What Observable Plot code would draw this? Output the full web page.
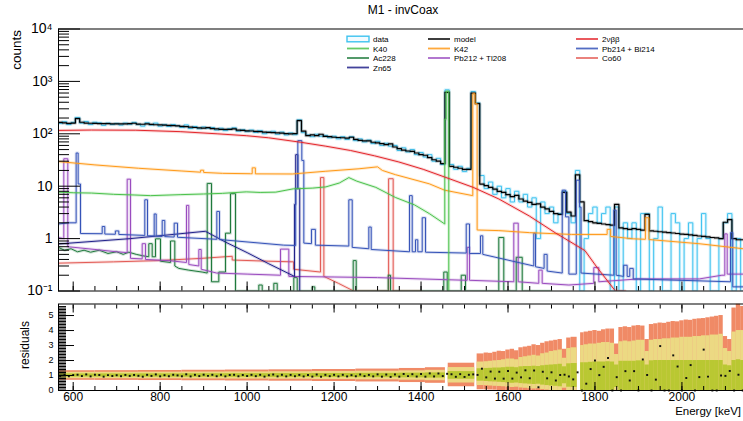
<!DOCTYPE html>
<html><head><meta charset="utf-8">
<script src="https://cdn.jsdelivr.net/npm/d3@7"></script>
<script src="https://cdn.jsdelivr.net/npm/@observablehq/plot@0.6"></script>
<style>
html,body{margin:0;padding:0;background:#fff;}
#wrap{position:relative;width:743px;height:421px;overflow:hidden;background:#fff;font-family:"Liberation Sans",Arial,Helvetica,sans-serif;}
#top,#bot,#ovl{position:absolute;left:0;}
#top{top:0;} #bot{top:300px;} #ovl{top:0;}
svg{max-width:none !important;}
</style></head>
<body><div id="wrap"><div id="top"></div><div id="bot"></div><svg id="ovl" width="743" height="421"></svg></div>
<script>
// ---------- data (energy in keV, counts per bin) ----------
const binStart = 565, binWidth = 10;
const modelCounts = [
165,162,158,160,195,166,160,159,158,157,
157,156,155,155,154,154,156,159,153,152,
155,151,149,148,147,145,143,142,139,137,
134,132,130,128,131,126,124,122,122,121,
124,118,116,114,113,111,110,108,106,105,
104,103,101,100,101,178,112,92,95,92,
98,89,88,86,85,84,83,86,78,75,
73,73,69,67,65,62,64,56,52,49,
47,46,43,40,39,35,32,30,27,620,
24,23,22,21,21,595,375,11,10.3,9.5,
8.8,8.0,7.6,6.9,6.3,6.7,5.7,5.2,4.9,4.5,
4.6,4.0,3.7,3.3,3.0,2.9,7.6,3.2,2.7,16.5,
5,2.2,2.1,2.0,1.95,1.9,1.85,1.8,4.5,1.6,
1.55,1.5,1.55,1.5,1.45,2.9,1.4,1.38,1.35,1.33,
1.3,1.28,1.25,1.22,1.2,1.18,1.15,1.12,1.1,1.08,
1.05,1.03,1.0,2.05,2.3,1.0,0.95,0.95];
const dataCounts = [
158,170,150,165,205,160,172,150,166,162,
145,160,150,158,147,160,152,165,150,140,
162,147,160,140,150,138,150,143,132,148,
126,138,125,135,128,132,118,128,115,125,
130,112,120,110,118,106,115,100,108,112,
98,108,95,104,96,185,105,95,88,98,
90,93,84,90,80,88,78,88,74,80,
70,76,65,72,60,66,58,60,48,54,
45,50,40,44,36,40,30,34,26,690,
26,21,24,19,22,640,390,16,9,12,
7,10,6,9,5,8,5,7,4,6,
1,5,3,4,2,3,8,3,2,20,
0,1,3,4,2,3,4,0,4,0,
2,1,2,0,3,3,0,1,4,0,
0,3,2,0,1,2,0,1,3,1,
0,0,1,2,3,0,1,0];

// components: [energy, counts] vertices of each histogram outline
const twoNuBB = [[566,116],[642,118],[744,117],[846,110],[931,100],[998,92],[1049,84],[1123,69],[1181,58],[1238,48],[1293,38],[1349,29],[1405,21],[1454,15],[1520,9.5],[1579,5.7],[1649,2.7],[1710,1.27],[1731,1.0],[1777,0.59],[1805,0.28],[1847,0.1],[1870,0.06]];
const k40 = [[566,7.7],[600,7.5],[642,7.4],[693,7.0],[740,6.8],[778,6.6],[846,6.9],[900,7.1],[943,7.3],[998,7.8],[1030,7.6],[1066,7.7],[1106,8.9],[1151,9.2],[1181,9.7],[1212,11.5],[1234,14.6],[1252,12.5],[1296,9.5],[1341,6.1],[1385,4.4],[1419,3.0],[1454.6,1.9],[1454.6,190],[1457.8,190],[1457.8,650],[1463.8,650],[1463.8,0.01]];
const k42 = [[566,29.5],[650,25.5],[750,22],[850,19.5],[893,18.5],[893,20.2],[900,20.2],[900,18.3],[943,17.6],[1008,17.3],[1011.7,17.3],[1011.7,22.4],[1019,22.4],[1019,17.2],[1104,17.1],[1181,19.3],[1257.5,21.5],[1300,23.4],[1311,20],[1341,16.6],[1419,11.1],[1454,8.4],[1519,6.6],[1519,580],[1524,580],[1524,375],[1529,375],[1529,1.46],[1579,1.42],[1649,1.3],[1746,1.2],[1828,1.2],[1828,1.5],[1836,1.5],[1836,1.1],[1888,0.99],[1916,0.97],[1916,2.5],[1924,2.5],[1924,0.96],[2039,0.8],[2141,0.64],[2180,0.6]];
const zn65 = [[566,0.79],[732,1.0],[904,1.38],[950,0.86],[1000,0.54],[1050,0.33],[1109,0.19],[1109,4.5],[1111.7,4.5],[1111.7,40],[1116.6,40],[1116.6,9],[1121,9],[1121,0.01]];
const pb214 = [[566,1.9],[590,2.0],[606.8,2.0],[606.8,43],[611.4,43],[611.4,11],[616.8,11],[616.8,1.25],[666.7,1.24],[666.7,1.7],[672.7,1.7],[672.7,1.22],[697,1.21],[697,1.4],[704.9,1.4],[704.9,1.2],[764.7,1.15],[764.7,5.5],[770.9,5.5],[770.9,1.13],[786.3,1.12],[786.3,2.95],[790.9,2.95],[790.9,1.11],[804.7,1.1],[804.7,2.22],[810.7,2.22],[810.7,1.09],[832.3,1.07],[832.3,1.97],[839.9,1.97],[839.9,1.06],[930.3,0.97],[930.3,3.3],[936.5,3.3],[936.5,0.96],[1084,0.75],[1111.7,0.74],[1111.7,9],[1116.6,9],[1116.6,74],[1125.8,74],[1125.8,31],[1130.4,31],[1130.4,0.82],[1148,0.8],[1148,1.5],[1157,1.5],[1157,0.75],[1233.9,0.72],[1233.9,5.5],[1241.7,5.5],[1241.7,0.68],[1279.9,0.64],[1279.9,1.66],[1285.4,1.66],[1285.4,0.62],[1373.5,0.56],[1373.5,6.6],[1379.7,6.6],[1379.7,0.56],[1387.3,0.56],[1387.3,0.95],[1392.6,0.95],[1392.6,0.56],[1402.7,0.56],[1402.7,2.5],[1410.3,2.5],[1410.3,0.55],[1503.9,0.53],[1503.9,1.9],[1511.5,1.9],[1511.5,0.52],[1536.7,0.52],[1536.7,1.13],[1542,1.13],[1542,0.5],[1659.3,0.3],[1659.3,1.27],[1663.2,1.27],[1663.2,0.29],[1683,0.27],[1683,0.5],[1690,0.5],[1690,0.24],[1724.7,0.22],[1724.7,8.4],[1732.3,8.4],[1732.3,2.6],[1740,2.6],[1740,0.21],[1757,0.21],[1757,13],[1764.5,13],[1764.5,4],[1768,4],[1768,0.22],[1843.3,0.2],[1843.3,3.5],[1848.8,3.5],[1848.8,0.2],[1866,0.19],[1866,0.31],[1874,0.31],[1874,0.19],[1880,0.19],[1880,0.27],[1888,0.27],[1888,0.17],[2111.7,0.15],[2111.7,1.3],[2117,1.3],[2117,0.12],[2180,0.12]];
const pb212 = [[566,1.05],[578.4,1.0],[578.4,33.4],[587.6,33.4],[587.6,0.7],[650,0.62],[700,0.56],[724.2,0.54],[724.2,13.6],[731.8,13.6],[731.8,0.42],[758.7,0.41],[758.7,0.8],[766.3,0.8],[766.3,0.4],[820,0.38],[860.6,0.35],[860.6,4.3],[865.9,4.3],[865.9,0.32],[888.9,0.3],[888.9,0.62],[894.4,0.62],[894.4,0.26],[930,0.22],[1000,0.21],[1076.8,0.2],[1076.8,0.63],[1095.9,0.63],[1095.9,0.19],[1200,0.185],[1300,0.18],[1400,0.17],[1506.2,0.16],[1506.2,0.68],[1511.5,0.68],[1511.5,0.16],[1613.3,0.15],[1613.3,1.97],[1623.5,1.97],[1623.5,0.15],[1670.8,0.14],[1670.8,0.25],[1678.6,0.25],[1678.6,0.14],[1740,0.13],[1797.3,0.14],[1797.3,0.28],[1808.8,0.28],[1808.8,0.15],[1900,0.17],[2040,0.17],[2092,0.2],[2098.6,0.2],[2098.6,1.23],[2104.1,1.23],[2104.1,0.21],[2180,0.21]];
const ac228 = [[566,0.68],[580,0.6],[595,0.64],[610,0.56],[625,0.6],[640,0.55],[660,0.6],[680,0.52],[700,0.56],[715,0.5],[728,0.55],[745,0.5],[760,0.47],[773.9,0.45],[773.9,0.8],[781.7,0.8],[781.7,0.45],[789.3,0.45],[789.3,0.99],[800.8,0.99],[800.8,0.37],[823.8,0.35],[823.8,0.9],[833.7,0.9],[833.7,0.3],[842.9,0.27],[865.9,0.25],[896.5,0.23],[908.2,0.22],[908.2,11.3],[918.1,11.3],[918.1,0.15],[934.9,0.15],[934.9,0.23],[950.3,0.23],[950.3,1.27],[961.8,1.27],[961.8,7.2],[973.3,7.2],[973.3,0.01],[1026.9,0.01],[1026.9,0.13],[1034.7,0.13],[1034.7,0.01],[1061.4,0.01],[1061.4,0.14],[1069.2,0.14],[1069.2,0.01],[1107.4,0.01],[1107.4,0.18],[1115.2,0.18],[1115.2,0.01],[1149.7,0.01],[1149.7,0.12],[1155.7,0.12],[1155.7,0.01],[1244,0.01],[1244,0.38],[1250.9,0.38],[1250.9,0.01],[1324.5,0.01],[1324.5,0.2],[1329.8,0.2],[1329.8,0.01],[1452.3,0.01],[1452.3,0.23],[1460.2,0.23],[1460.2,0.01],[1492.4,0.01],[1492.4,0.2],[1502.3,0.2],[1502.3,0.01],[1578.8,0.01],[1578.8,1.05],[1590.3,1.05],[1590.3,0.01],[1618.9,0.01],[1618.9,0.44],[1632.7,0.44],[1632.7,0.01],[1700,0.01]];
const co60 = [[566,0.34],[693,0.36],[795,0.38],[896,0.42],[965.7,0.46],[965.7,0.39],[1050,0.37],[1107,0.36],[1107,0.26],[1168.8,0.23],[1168.8,14.6],[1176.5,14.6],[1176.5,0.19],[1210,0.14],[1245,0.1],[1280,0.07],[1325.4,0.06],[1325.4,13.9],[1335.9,13.9],[1335.9,0.01],[1400,0.01]];

// residual panel: expected-fluctuation bands (ratio units)
const bandX1 = [566,650,750,850,950,1050,1150,1250,1350,1410,1462.5,1529,
1545,1555,1565,1575,1585,1595,1605,1615,1625,1635,1645,1655,1665,1675,1685,1695,1705,1715,1725,1735,1745,
1767,1775,1785,1795,1805,1815,1825,1835,1845,1855,1865,1875,1885,1895,1905,1915,1925,1935,1945,1955,1965,1975,1985,1995,2005,2015,2025,2035,2045,2055,2065,2075,2085,2095,2105,2115,2125,2135];
const bandX2 = [650,750,850,950,1050,1150,1250,1350,1410,1456,1523.5,1545,
1555,1565,1575,1585,1595,1605,1615,1625,1635,1645,1655,1665,1675,1685,1695,1705,1715,1725,1735,1745,1759,
1775,1785,1795,1805,1815,1825,1835,1845,1855,1865,1875,1885,1895,1905,1915,1925,1935,1945,1955,1965,1975,1985,1995,2005,2015,2025,2035,2045,2055,2065,2075,2085,2095,2105,2115,2125,2135,2145];
const sig3Hi = [1.32,1.325,1.335,1.35,1.365,1.38,1.4,1.43,1.47,1.52,1.82,2.44,
2.5,2.48,2.55,2.62,2.6,2.7,2.75,2.65,2.85,2.9,2.95,3.05,3.0,3.15,3.25,3.3,3.35,3.4,2.75,3.5,3.55,
3.85,3.9,3.95,4.0,3.95,4.05,4.1,4.1,3.1,4.2,4.25,4.2,4.3,4.33,4.3,3.4,4.4,4.45,4.5,4.48,4.55,4.6,4.58,4.65,4.7,4.68,4.75,4.78,4.8,4.85,4.9,4.95,5.0,3.6,3.4,5.5,5.77,5.6];
const sig3Lo = [0.68,0.675,0.665,0.65,0.635,0.62,0.6,0.57,0.53,0.48,0.25,0.05,
0.04,0.03,0.02,0,0,0,0,0,0,0,0,0,0,0,0,0,0,0,0,0,0,
0,0,0,0,0,0,0,0,0,0,0,0,0,0,0,0,0,0,0,0,0,0,0,0,0,0,0,0,0,0,0,0,0,0,0,0,0,0];
const sig2Hi = [1.215,1.217,1.223,1.233,1.243,1.253,1.267,1.287,1.313,1.347,1.53,1.9,
1.92,1.95,1.98,2.0,2.05,2.1,2.1,2.05,2.2,2.25,2.3,2.35,2.3,2.45,2.5,2.6,2.65,2.7,2.15,2.8,2.85,
3.0,3.05,3.1,3.1,3.15,3.2,3.2,3.15,2.4,3.25,3.3,3.25,3.3,3.35,3.35,2.6,3.35,3.4,3.4,3.45,3.45,3.5,3.5,3.55,3.55,3.55,3.6,3.6,3.65,3.65,3.7,3.7,3.75,2.8,2.6,3.9,4.0,4.0];
const sig2Lo = [0.785,0.783,0.777,0.767,0.757,0.747,0.733,0.713,0.687,0.653,0.5,0.33,
0.32,0.3,0.28,0.27,0.25,0.22,0.2,0.22,0.17,0.15,0.12,0.1,0.12,0.06,0.03,0,0,0,0.15,0,0,
0,0,0,0,0,0,0,0,0,0,0,0,0,0,0,0,0,0,0,0,0,0,0,0,0,0,0,0,0,0,0,0,0,0,0,0,0,0];
const sig1Hi = [1.105,1.108,1.112,1.117,1.122,1.127,1.133,1.143,1.157,1.173,1.26,1.45,
1.47,1.48,1.5,1.5,1.52,1.55,1.55,1.52,1.58,1.6,1.6,1.62,1.6,1.65,1.68,1.7,1.72,1.75,1.58,1.78,1.8,
1.85,1.85,1.88,1.9,1.9,1.9,1.92,1.9,1.7,1.95,1.95,1.95,1.95,1.98,1.98,1.7,1.98,2.0,2.0,2.0,2.0,2.0,2.0,2.0,2.0,2.0,2.0,2.0,2.0,2.0,2.0,2.0,2.0,1.7,1.65,2.0,2.05,2.0];
const sig1Lo = [0.895,0.892,0.888,0.883,0.878,0.873,0.867,0.857,0.843,0.827,0.75,0.62,
0.6,0.58,0.57,0.55,0.53,0.5,0.48,0.5,0.46,0.44,0.42,0.4,0.42,0.36,0.33,0.3,0.28,0.25,0.45,0.22,0.2,
0,0,0,0,0,0,0,0,0.2,0,0,0,0,0,0,0,0,0,0,0,0,0,0,0,0,0,0,0,0,0,0,0,0,0,0,0,0,0];

// axes
const yMajor = [0.1, 1, 10, 100, 1000, 10000];
const yTickText = ["10\u207B\u00B9", "1", "10", "10\u00B2", "10\u00B3", "10\u2074"];
const xMajor = [600, 800, 1000, 1200, 1400, 1600, 1800, 2000];
const resMajor = [0, 1, 2, 3, 4, 5];

// legend
const legendNames = ["data","K40","Ac228","Zn65","model","K42","Pb212 + Tl208","2\u03BD\u03B2\u03B2","Pb214 + Bi214","Co60"];
const legendCol = [0,0,0,0,1,1,1,2,2,2];
const legendRow = [0,1,2,3,0,1,2,0,1,2];

// ---------- styles ----------
const C = {data:"#3fc3f0", model:"#000000", twoNu:"#e3262b", k40:"#4cc24c", k42:"#ff9a1a",
  pb214:"#3553b8", ac228:"#1f7a3c", pb212:"#9a4cbf", co60:"#e35b55", zn65:"#22228a"};
const legendColors = [C.data, C.k40, C.ac228, C.zn65, C.model, C.k42, C.pb212, C.twoNu, C.pb214, C.co60];
const FONT = "Liberation Sans, Arial, Helvetica, sans-serif";
const xDomain = [566.2, 2180.7];
const yFloor = v => Math.max(v, 0.1);

// ---------- build ----------
const bins = modelCounts.map((m, i) => ({lo: binStart + i * binWidth, mid: binStart + (i + 0.5) * binWidth, model: m, data: dataCounts[i]}));
const lastEdge = binStart + modelCounts.length * binWidth;
const stepPts = key => [...bins.map(b => ({x: b.lo, y: b[key]})), {x: lastEdge, y: bins[bins.length - 1][key]}];

function outline(pts, color, w, curve) {
  return [
    Plot.line(pts, {x: "x", y: d => yFloor(d.y), stroke: color, strokeWidth: w + 2, strokeOpacity: 0.2, curve, clip: true}),
    Plot.line(pts, {x: "x", y: d => yFloor(d.y), stroke: color, strokeWidth: w, curve, clip: true})
  ];
}
const comp = (arr, color) => outline(arr.map(([x, y]) => ({x, y})), color, 1, "linear");

const yMinor = yMajor.slice(0, -1).flatMap(d => [2,3,4,5,6,7,8,9].map(k => d * k));
const xMinor = d3.range(600, 2176, 50);
const resMinor = d3.range(0, 57).map(i => i / 10);

const topPlot = Plot.plot({
  width: 760, height: 300,
  marginLeft: 58, marginRight: 0, marginTop: 28.5, marginBottom: 9.5,
  x: {domain: xDomain, label: null},
  y: {type: "log", domain: [0.1, 1e4], label: null},
  style: {fontFamily: FONT, background: "transparent", color: "#000"},
  marks: [
    ...outline(stepPts("data"), C.data, 1, "step-after"),
    ...outline(stepPts("model"), C.model, 1.2, "step-after"),
    ...comp(co60, C.co60),
    ...comp(ac228, C.ac228),
    ...comp(pb212, C.pb212),
    ...comp(zn65, C.zn65),
    ...comp(pb214, C.pb214),
    ...comp(k42, C.k42),
    ...comp(k40, C.k40),
    ...comp(twoNuBB, C.twoNu),
    Plot.frame({stroke: "#000"}),
    Plot.axisY({ticks: yMajor, tickSize: -22, tickFormat: () => ""}),
    Plot.axisY({ticks: yMinor, tickSize: -11, tickFormat: () => ""}),
    Plot.axisY({ticks: yMajor, tickSize: 0, tickPadding: 6, fontSize: 14, tickFormat: d => yTickText[yMajor.indexOf(d)]}),
    Plot.axisX({ticks: xMajor, tickSize: -9, tickFormat: () => ""}),
    Plot.axisX({ticks: xMinor, tickSize: -4.5, tickFormat: () => ""})
  ]
});

const bands = bandX1.map((x1, i) => ({x1, x2: bandX2[i], s1lo: sig1Lo[i], s1hi: sig1Hi[i], s2lo: sig2Lo[i], s2hi: sig2Hi[i], s3lo: sig3Lo[i], s3hi: sig3Hi[i]}));

const botPlot = Plot.plot({
  width: 760, height: 121,
  marginLeft: 58, marginRight: 0, marginTop: 3.5, marginBottom: 31,
  x: {domain: xDomain, label: null},
  y: {domain: [0, 5.77], label: null},
  style: {fontFamily: FONT, background: "transparent", color: "#000"},
  marks: [
    Plot.rect(bands, {x1: "x1", x2: "x2", y1: "s3lo", y2: "s3hi", fill: "#f08a66", clip: true}),
    Plot.rect(bands, {x1: "x1", x2: "x2", y1: "s2lo", y2: "s2hi", fill: "#ecd983", clip: true}),
    Plot.rect(bands, {x1: "x1", x2: "x2", y1: "s1lo", y2: "s1hi", fill: "#b9c832", clip: true}),
    Plot.dot(bins, {x: "mid", y: b => b.data / b.model, symbol: "square", r: 1.1, fill: "#111", stroke: "none"}),
    Plot.frame({stroke: "#000"}),
    Plot.axisY({ticks: resMajor, tickSize: -16, tickFormat: () => ""}),
    Plot.axisY({ticks: resMinor, tickSize: -8, tickFormat: () => ""}),
    Plot.axisY({ticks: resMajor, tickSize: 0, tickPadding: 5, fontSize: 9, tickFormat: d => String(d)}),
    Plot.axisX({anchor: "bottom", ticks: xMajor, tickSize: -8, tickFormat: () => ""}),
    Plot.axisX({anchor: "bottom", ticks: xMinor, tickSize: -4, tickFormat: () => ""}),
    Plot.axisX({anchor: "top", ticks: xMajor, tickSize: -8, tickFormat: () => ""}),
    Plot.axisX({anchor: "top", ticks: xMinor, tickSize: -4, tickFormat: () => ""}),
    Plot.axisX({anchor: "bottom", ticks: xMajor, tickSize: 0, tickPadding: 2, fontSize: 12, tickFormat: d => String(d)})
  ]
});

topPlot.style.maxWidth = "none";
botPlot.style.maxWidth = "none";
document.getElementById("top").appendChild(topPlot);
document.getElementById("bot").appendChild(botPlot);

// ---------- overlay texts and legend ----------
const ovl = d3.select("#ovl").attr("font-family", FONT);
ovl.append("text").attr("x", 403).attr("y", 14).attr("text-anchor", "middle").attr("font-size", 12).text("M1 - invCoax");
ovl.append("text").attr("transform", "translate(21,30) rotate(-90)").attr("text-anchor", "end").attr("font-size", 13.5).text("counts");
ovl.append("text").attr("transform", "translate(29,345) rotate(-90)").attr("text-anchor", "middle").attr("font-size", 12).text("residuals");
ovl.append("text").attr("x", 741).attr("y", 415).attr("text-anchor", "end").attr("font-size", 11.5).text("Energy [keV]");

const colX = [347, 428, 576];
const rowY = [39, 48.5, 58, 67.5];
legendNames.forEach((name, i) => {
  const x = colX[legendCol[i]], y = rowY[legendRow[i]];
  if (name === "data") {
    ovl.append("rect").attr("x", x).attr("y", y - 2.8).attr("width", 22).attr("height", 5.6)
      .attr("fill", "#f2fbff").attr("stroke", legendColors[i]).attr("stroke-width", 1.4);
  } else {
    ovl.append("line").attr("x1", x).attr("x2", x + 22).attr("y1", y).attr("y2", y)
      .attr("stroke", legendColors[i]).attr("stroke-width", 1.8).attr("stroke-opacity", 0.85);
  }
  ovl.append("text").attr("x", x + 26).attr("y", y + 3).attr("font-size", 8).text(name);
});
</script></body></html>
